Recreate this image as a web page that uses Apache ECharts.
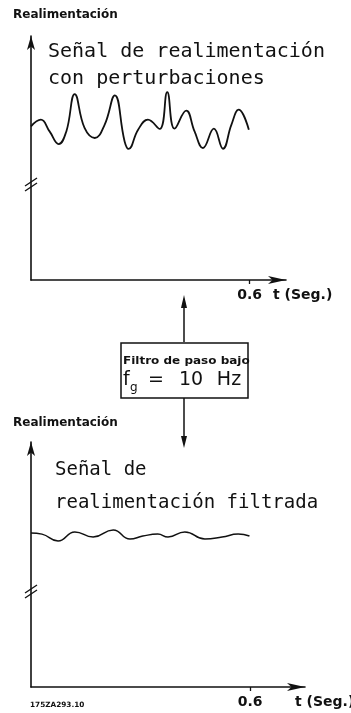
<!DOCTYPE html>
<html>
<head>
<meta charset="utf-8">
<title>Señal de realimentación</title>
<script src="https://cdn.jsdelivr.net/npm/echarts@6/dist/echarts.min.js"></script>
<style>
  html, body { margin: 0; padding: 0; background: #fff; }
  #main { width: 351px; height: 713px; }
</style>
</head>
<body>
<div id="main"></div>
<script>
// tiempo (seg.) y realimentación (escala relativa 0-100)
var tRuido = [0, 0.027, 0.051, 0.076, 0.097, 0.120, 0.147, 0.175, 0.202, 0.230, 0.257, 0.268,
              0.294, 0.321, 0.353, 0.374, 0.394, 0.426, 0.449, 0.472, 0.502, 0.527, 0.550, 0.570, 0.598];
var vRuido = [63.0, 65.7, 60.9, 55.7, 60.9, 76.2, 62.3, 58.2, 63.6, 75.7, 56.8, 53.7,
              61.6, 65.7, 61.9, 77.0, 62.0, 69.4, 60.9, 54.1, 62.0, 53.8, 63.6, 69.8, 61.6];

var tFiltrada = [0, 0.030, 0.074, 0.120, 0.170, 0.225, 0.271, 0.306, 0.347, 0.375, 0.421, 0.476, 0.523, 0.567, 0.598];
var vFiltrada = [62.9, 62.4, 59.6, 63.3, 61.2, 64.1, 60.4, 61.6, 62.4, 61.2, 63.3, 60.4, 61.2, 62.4, 61.6];

var ticksT = [0.6];

function pares(t, v) {
    var out = [];
    for (var i = 0; i < t.length; i++) {
        out.push([t[i], v[i]]);
    }
    return out;
}

var negro = '#111';

// textos sueltos
function txt(x, y, s, size, opts) {
    opts = opts || {};
    return {
        type: 'text',
        x: x, y: y,
        scaleX: opts.scaleX || 1,
        style: {
            text: s,
            fill: negro,
            fontSize: size,
            fontFamily: opts.family || 'DejaVu Sans',
            fontWeight: opts.weight || 'normal',
            textAlign: opts.align || 'left',
            textVerticalAlign: 'middle'
        }
    };
}

function linea(points, w) {
    return { type: 'polyline', shape: { points: points }, style: { stroke: negro, lineWidth: w || 1.5, fill: null } };
}

function punta(points) {
    return { type: 'polygon', shape: { points: points }, style: { fill: negro } };
}

// marca de corte "//" en el eje vertical
function corte(y) {
    return [
        { type: 'rect', shape: { x: 28, y: y - 2.5, width: 6, height: 5 }, style: { fill: '#fff' } },
        linea([[25, y + 1], [37, y - 7]], 1.3),
        linea([[25, y + 6], [37, y - 2]], 1.3)
    ];
}

function ejeX(idx, max) {
    return {
        gridIndex: idx, type: 'value', min: 0, max: max,
        axisLine: { show: true, symbol: ['none', 'arrow'], symbolSize: [6, 18], lineStyle: { color: negro, width: 1.6 } },
        axisTick: { show: true, customValues: ticksT, length: 4, lineStyle: { color: negro, width: 1.3 } },
        axisLabel: {
            show: true, customValues: ticksT, margin: 8,
            color: negro, fontSize: 14, fontWeight: 'bold', fontFamily: 'DejaVu Sans',
            formatter: function (v) { return v.toFixed(1); }
        },
        splitLine: { show: false }
    };
}

function ejeY(idx) {
    return {
        gridIndex: idx, type: 'value', min: 0, max: 100,
        axisLine: { show: true, onZero: false, symbol: ['none', 'arrow'], symbolSize: [6, 14], lineStyle: { color: negro, width: 1.6 } },
        axisTick: { show: false },
        axisLabel: { show: false },
        splitLine: { show: false }
    };
}

var graficos = [
    txt(13, 15, 'Realimentación', 12, { weight: 'bold' }),
    txt(48, 52, 'Señal de realimentación', 20, { family: 'DejaVu Sans Mono' }),
    txt(48, 79, 'con perturbaciones', 20, { family: 'DejaVu Sans Mono' }),
    txt(273, 295, 't (Seg.)', 14, { weight: 'bold' }),

    // flechas y caja del filtro
    linea([[184, 342], [184, 302]], 1.5),
    punta([[184, 295], [181, 308], [187, 308]]),
    { type: 'rect', shape: { x: 121, y: 343, width: 127, height: 55 }, style: { fill: null, stroke: negro, lineWidth: 1.5 } },
    txt(123, 361, 'Filtro de paso bajo', 10, { weight: 'bold', scaleX: 1.2 }),
    txt(123, 380, 'f', 19),
    txt(130, 388, 'g', 12),
    txt(156, 380, '=', 19, { align: 'center' }),
    txt(191, 380, '10', 19, { align: 'center' }),
    txt(229, 380, 'Hz', 19, { align: 'center' }),
    linea([[184, 398], [184, 440]], 1.5),
    punta([[181, 436], [187, 436], [184, 448]]),

    txt(13, 423, 'Realimentación', 12, { weight: 'bold' }),
    txt(55, 470, 'Señal de', 19, { family: 'DejaVu Sans Mono' }),
    txt(55, 503, 'realimentación filtrada', 19, { family: 'DejaVu Sans Mono' }),
    txt(295, 702, 't (Seg.)', 14, { weight: 'bold' }),
    txt(30, 705, '175ZA293.10', 7.3, { weight: 'bold' })
].concat(corte(185)).concat(corte(592));

var chart = echarts.init(document.getElementById('main'));
var option = {
    backgroundColor: '#fff',
    animation: false,
    grid: [
        { left: 31, top: 36, width: 255, height: 244 },
        { left: 31, top: 442, width: 274, height: 245 }
    ],
    xAxis: [ejeX(0, 0.7), ejeX(1, 0.75)],
    yAxis: [ejeY(0), ejeY(1)],
    series: [
        {
            name: 'Señal de realimentación con perturbaciones',
            type: 'line', xAxisIndex: 0, yAxisIndex: 0,
            data: pares(tRuido, vRuido),
            smooth: 0.45, symbol: 'none',
            lineStyle: { color: negro, width: 1.8 }
        },
        {
            name: 'Señal de realimentación filtrada',
            type: 'line', xAxisIndex: 1, yAxisIndex: 1,
            data: pares(tFiltrada, vFiltrada),
            smooth: 0.5, symbol: 'none',
            lineStyle: { color: negro, width: 1.5 }
        }
    ],
    graphic: graficos
};
chart.setOption(option);
</script>
</body>
</html>
